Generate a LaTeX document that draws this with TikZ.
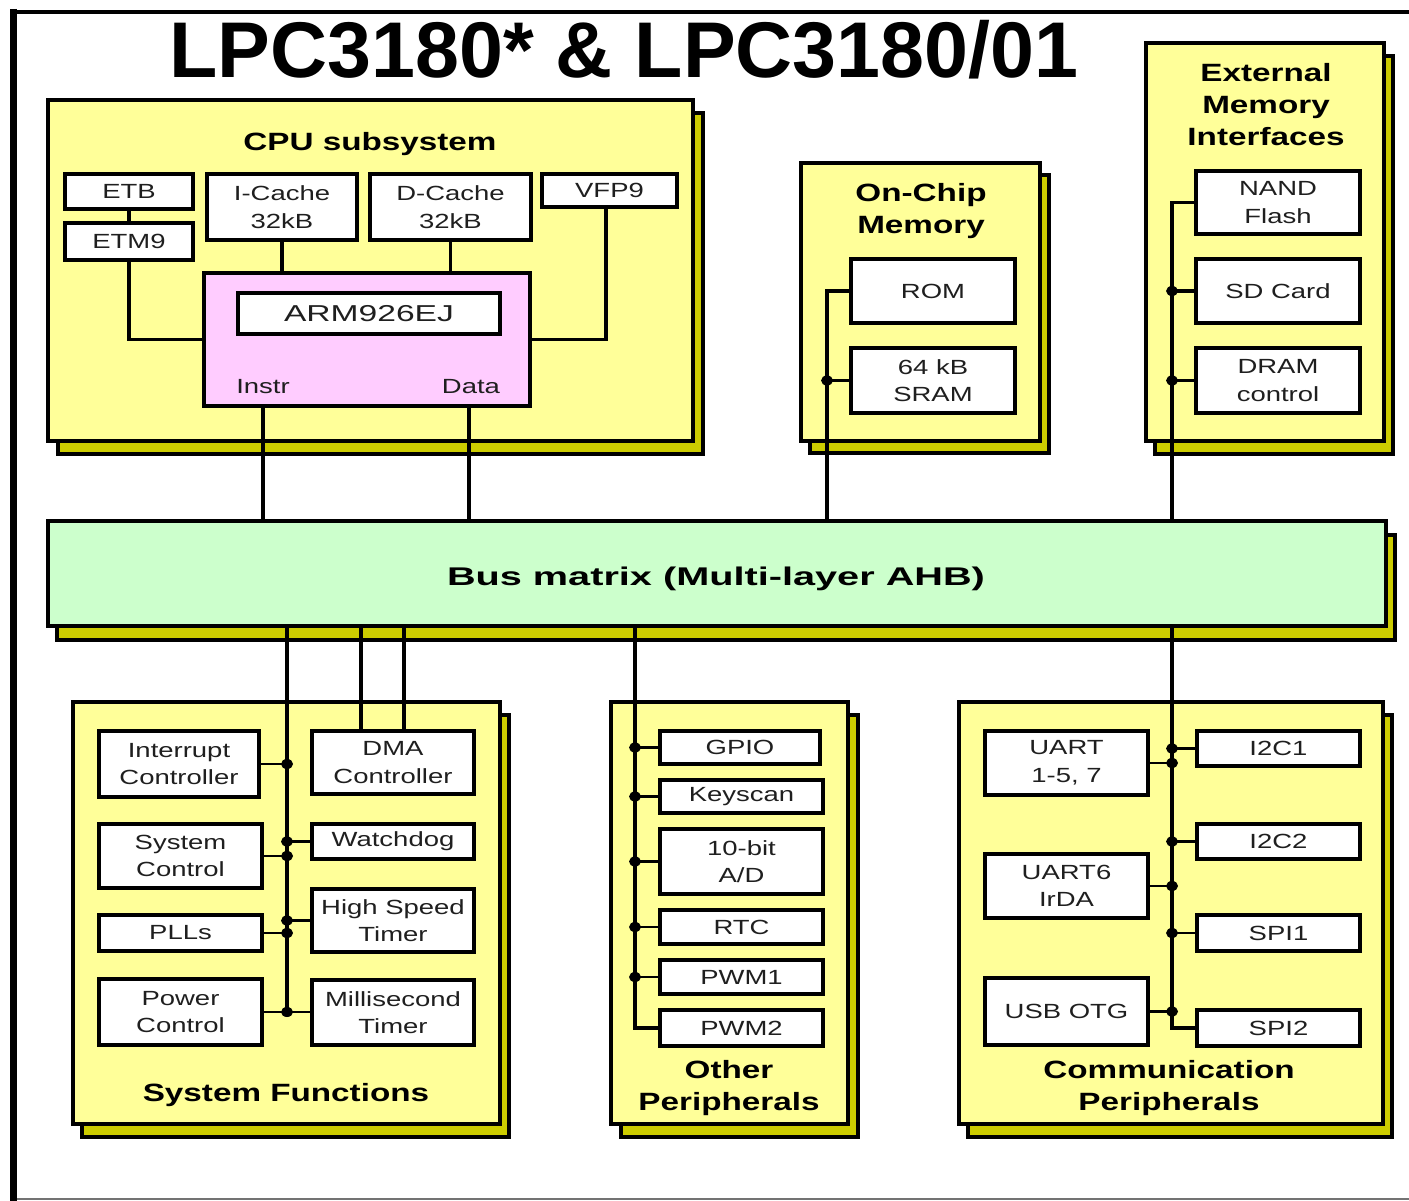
\documentclass[tikz,border=0pt]{standalone}
\usepackage{fontspec}
\usepackage{graphicx}
\setmainfont{Liberation Sans}
\newfontfamily\titf{Liberation Sans}
\newfontfamily\lblf{Liberation Sans}[FakeStretch=1.34]
\newfontfamily\ttlf{Liberation Sans}[FakeStretch=1.33]
\newfontfamily\busf{Liberation Sans}[FakeStretch=1.55]
\newfontfamily\armf{Liberation Sans}[FakeStretch=1.46]
\definecolor{grpY}{HTML}{FFFF99}
\definecolor{shdY}{HTML}{CCCC00}
\definecolor{busG}{HTML}{CCFFCC}
\definecolor{armP}{HTML}{FFCCFF}
\tikzset{
  lbl/.style={font=\lblf\fontsize{20.5}{27.5}\selectfont, align=center, text=black!88},
  blk/.style={draw, line width=4pt, fill=white, inner sep=0pt, lbl},
  grpbox/.style={draw, line width=3.2pt, fill=grpY, inner sep=0pt},
  shd/.style={draw, line width=3.2pt, fill=shdY},
  ttl/.style={font=\ttlf\bfseries\fontsize{25}{32}\selectfont, align=center, inner sep=0pt, text=black},
  wire/.style={line width=3.2pt},
  stub/.style={line width=2.6pt},
  dot/.style={ellipse, fill=black, inner sep=0pt, minimum width=12pt, minimum height=10pt},
}
% name x1 y1 x2 y2 dx dy
\newcommand\Grp[7]{%
  \draw[shd] ({#2+#6},{#3+#7}) rectangle ({#4+#6},{#5+#7});
  \node[grpbox, minimum width={#4-#2}, minimum height={#5-#3}] (#1) at ({(#2+#4)/2},{(#3+#5)/2}) {};}
% name x1 y1 x2 y2 text
\newcommand\Blk[6]{%
  \node[blk, minimum width={#4-#2}, minimum height={#5-#3}] (#1) at ({(#2+#4)/2},{(#3+#5)/2}) {#6};}
\usetikzlibrary{shapes.geometric}
\begin{document}
\begin{tikzpicture}[x=1pt,y=-1pt]
\useasboundingbox (0,0) rectangle (1409,1201);
\fill[white] (0,0) rectangle (1409,1201);
% outer frame
\draw[line width=2pt, black!55] (13,1199) -- (1409,1199);
\draw[line width=7pt] (13,9) -- (13,1201);
\draw[line width=4pt] (10,12) -- (1409,12);
% title
\node[font=\titf\bfseries\fontsize{79}{90}\selectfont, anchor=base, inner sep=0pt] (title) at (624,78) {LPC3180* \& LPC3180/01};

% groups
\Grp{cpu}{48}{100}{693}{441}{10}{13}
\Grp{ocm}{801}{163}{1040}{441}{9}{12}
\Grp{emi}{1146}{43}{1384}{441}{9}{13}
\Grp{sysf}{73}{702}{500}{1124}{9}{13}
\Grp{oth}{611}{702}{848}{1124}{10}{13}
\Grp{com}{959}{702}{1383}{1124}{9}{13}

% bus matrix
\draw[shd] (57,535) rectangle (1395,640);
\node[draw, line width=3.2pt, fill=busG, inner sep=0pt, minimum width=1338, minimum height=105] (bus) at (717,573.5) {};
\node[font=\busf\bfseries\fontsize{25.6}{30}\selectfont, anchor=base, inner sep=0pt] (bustxt) at (716,585) {Bus matrix (Multi-layer AHB)};

% group titles
\node[ttl, anchor=base] (tcpu) at (370,151) {CPU subsystem};
\node[ttl] (tocm) at (921,211) {On-Chip\\Memory};
\node[ttl] (temi) at (1266,105) {External\\Memory\\Interfaces};
\node[ttl, anchor=base] (tsys) at (286,1101) {System Functions};
\node[ttl] (toth) at (729,1088) {Other\\Peripherals};
\node[ttl] (tcom) at (1169,1088) {Communication\\Peripherals};

% CPU subsystem
\Blk{ETB}{65}{174}{193}{209}{ETB}
\Blk{ETM9}{65}{223}{193}{260}{ETM9}
\Blk{ICache}{207}{174}{357}{240}{I-Cache\\32kB}
\Blk{DCache}{370}{174}{531}{240}{D-Cache\\32kB}
\Blk{VFP9}{542}{174}{677}{207}{VFP9}
\node[draw, line width=3.5pt, fill=armP, inner sep=0pt, minimum width=326, minimum height=133] (ARM) at (367,339.5) {};
\node[blk, font=\armf\fontsize{23}{28}\selectfont, minimum width=262, minimum height=41] (core) at (369,313.5) {ARM926EJ};
\node[lbl, anchor=base, inner sep=0pt] (instr) at (263,393) {Instr};
\node[lbl, anchor=base, inner sep=0pt] (data) at (471,393) {Data};

% On-chip memory
\Blk{ROM}{851}{259}{1015}{323}{ROM}
\Blk{SRAM}{851}{348}{1015}{413}{64 kB\\SRAM}

% External memory
\Blk{NAND}{1196}{171}{1360}{234}{NAND\\Flash}
\Blk{SD}{1196}{259}{1360}{323}{SD Card}
\Blk{DRAM}{1196}{348}{1360}{413}{DRAM\\control}

% System functions
\Blk{IntC}{99}{731}{259}{797}{Interrupt\\Controller}
\Blk{DMA}{312}{731}{474}{794}{DMA\\Controller}
\Blk{SysC}{99}{824}{262}{888}{System\\Control}
\Blk{WDog}{312}{824}{474}{859}{Watchdog}
\Blk{PLL}{99}{915}{262}{951}{PLLs}
\Blk{HST}{312}{889}{474}{952}{High Speed\\Timer}
\Blk{PwrC}{99}{979}{262}{1045}{Power\\Control}
\Blk{MsT}{312}{980}{474}{1045}{Millisecond\\Timer}

% Other peripherals
\Blk{GPIO}{660}{731}{820}{764}{GPIO}
\Blk{Keys}{660}{780}{823}{813}{Keyscan}
\Blk{AD}{660}{829}{823}{894}{10-bit\\A/D}
\Blk{RTC}{660}{910}{823}{944}{RTC}
\Blk{PWM1}{660}{960}{823}{994}{PWM1}
\Blk{PWM2}{660}{1010}{823}{1046}{PWM2}

% Communication peripherals
\Blk{UART}{985}{731}{1148}{795}{UART\\1-5, 7}
\Blk{I2C1}{1197}{731}{1360}{766}{I2C1}
\Blk{I2C2}{1197}{824}{1360}{859}{I2C2}
\Blk{UART6}{985}{854}{1148}{918}{UART6\\IrDA}
\Blk{SPI1}{1197}{915}{1360}{951}{SPI1}
\Blk{USB}{985}{978}{1148}{1045}{USB OTG}
\Blk{SPI2}{1197}{1010}{1360}{1046}{SPI2}

% bus tap coordinates
\coordinate (cI) at (263,0);
\coordinate (cD) at (469,0);
\coordinate (cM) at (827,0);
\coordinate (cE) at (1172,0);
\coordinate (cS) at (287,0);
\coordinate (cS1) at (361,0);
\coordinate (cS2) at (404,0);
\coordinate (cO) at (635,0);
\coordinate (cV) at (606,0);

% CPU connections
\draw[wire] (ETB.south) -- (ETM9.north);
\draw[wire] (ETM9.south) |- (ARM.west);
\draw[wire] (VFP9.south -| cV) |- (ARM.east);
\draw[wire] (ICache.south) -- (ICache.south |- ARM.north);
\draw[wire] (DCache.south) -- (DCache.south |- ARM.north);
\draw[wire] (ARM.south -| cI) -- (bus.north -| cI);
\draw[wire] (ARM.south -| cD) -- (bus.north -| cD);

% memory connections
\draw[wire] (bus.north -| cM) |- (ROM.west);
\draw[wire] (SRAM.west) -- (SRAM.west -| cM) node[dot] (dSRAM) {};
\draw[wire] (bus.north -| cE) |- (NAND.west);
\draw[wire] (SD.west) -- (SD.west -| cE) node[dot] (dSD) {};
\draw[wire] (DRAM.west) -- (DRAM.west -| cE) node[dot] (dDRAM) {};

% system functions
\draw[wire] (bus.south -| cS) -- (PwrC.east -| cS);
\draw[wire] (bus.south -| cS1) -- (DMA.north -| cS1);
\draw[wire] (bus.south -| cS2) -- (DMA.north -| cS2);
\draw[stub] (IntC.east) -- (IntC.east -| cS) node[dot] (dIntC) {};
\draw[stub] (WDog.west) -- (WDog.west -| cS) node[dot] (dWDog) {};
\draw[stub] (SysC.east) -- (SysC.east -| cS) node[dot] (dSysC) {};
\draw[stub] (HST.west) -- (HST.west -| cS) node[dot] (dHST) {};
\draw[stub] (PLL.east) -- (PLL.east -| cS) node[dot] (dPLL) {};
\draw[stub] (PwrC.east) -- (MsT.west |- PwrC.east);
\node[dot] (dPwr) at (PwrC.east -| cS) {};

% other peripherals
\draw[line width=3.8pt] (bus.south -| cO) |- (PWM2.west);
\draw[stub] (GPIO.west) -- (GPIO.west -| cO) node[dot] (dGPIO) {};
\draw[stub] (Keys.west) -- (Keys.west -| cO) node[dot] (dKeys) {};
\draw[stub] (AD.west) -- (AD.west -| cO) node[dot] (dAD) {};
\draw[stub] (RTC.west) -- (RTC.west -| cO) node[dot] (dRTC) {};
\draw[stub] (PWM1.west) -- (PWM1.west -| cO) node[dot] (dPWM1) {};

% communication peripherals
\draw[wire] (bus.south -| cE) |- (SPI2.west);
\draw[stub] (I2C1.west) -- (I2C1.west -| cE) node[dot] (dI2C1) {};
\draw[stub] (UART.east) -- (UART.east -| cE) node[dot] (dUART) {};
\draw[stub] (I2C2.west) -- (I2C2.west -| cE) node[dot] (dI2C2) {};
\draw[stub] (UART6.east) -- (UART6.east -| cE) node[dot] (dUART6) {};
\draw[stub] (SPI1.west) -- (SPI1.west -| cE) node[dot] (dSPI1) {};
\draw[stub] (USB.east) -- (USB.east -| cE) node[dot] (dUSB) {};
\end{tikzpicture}
\end{document}
